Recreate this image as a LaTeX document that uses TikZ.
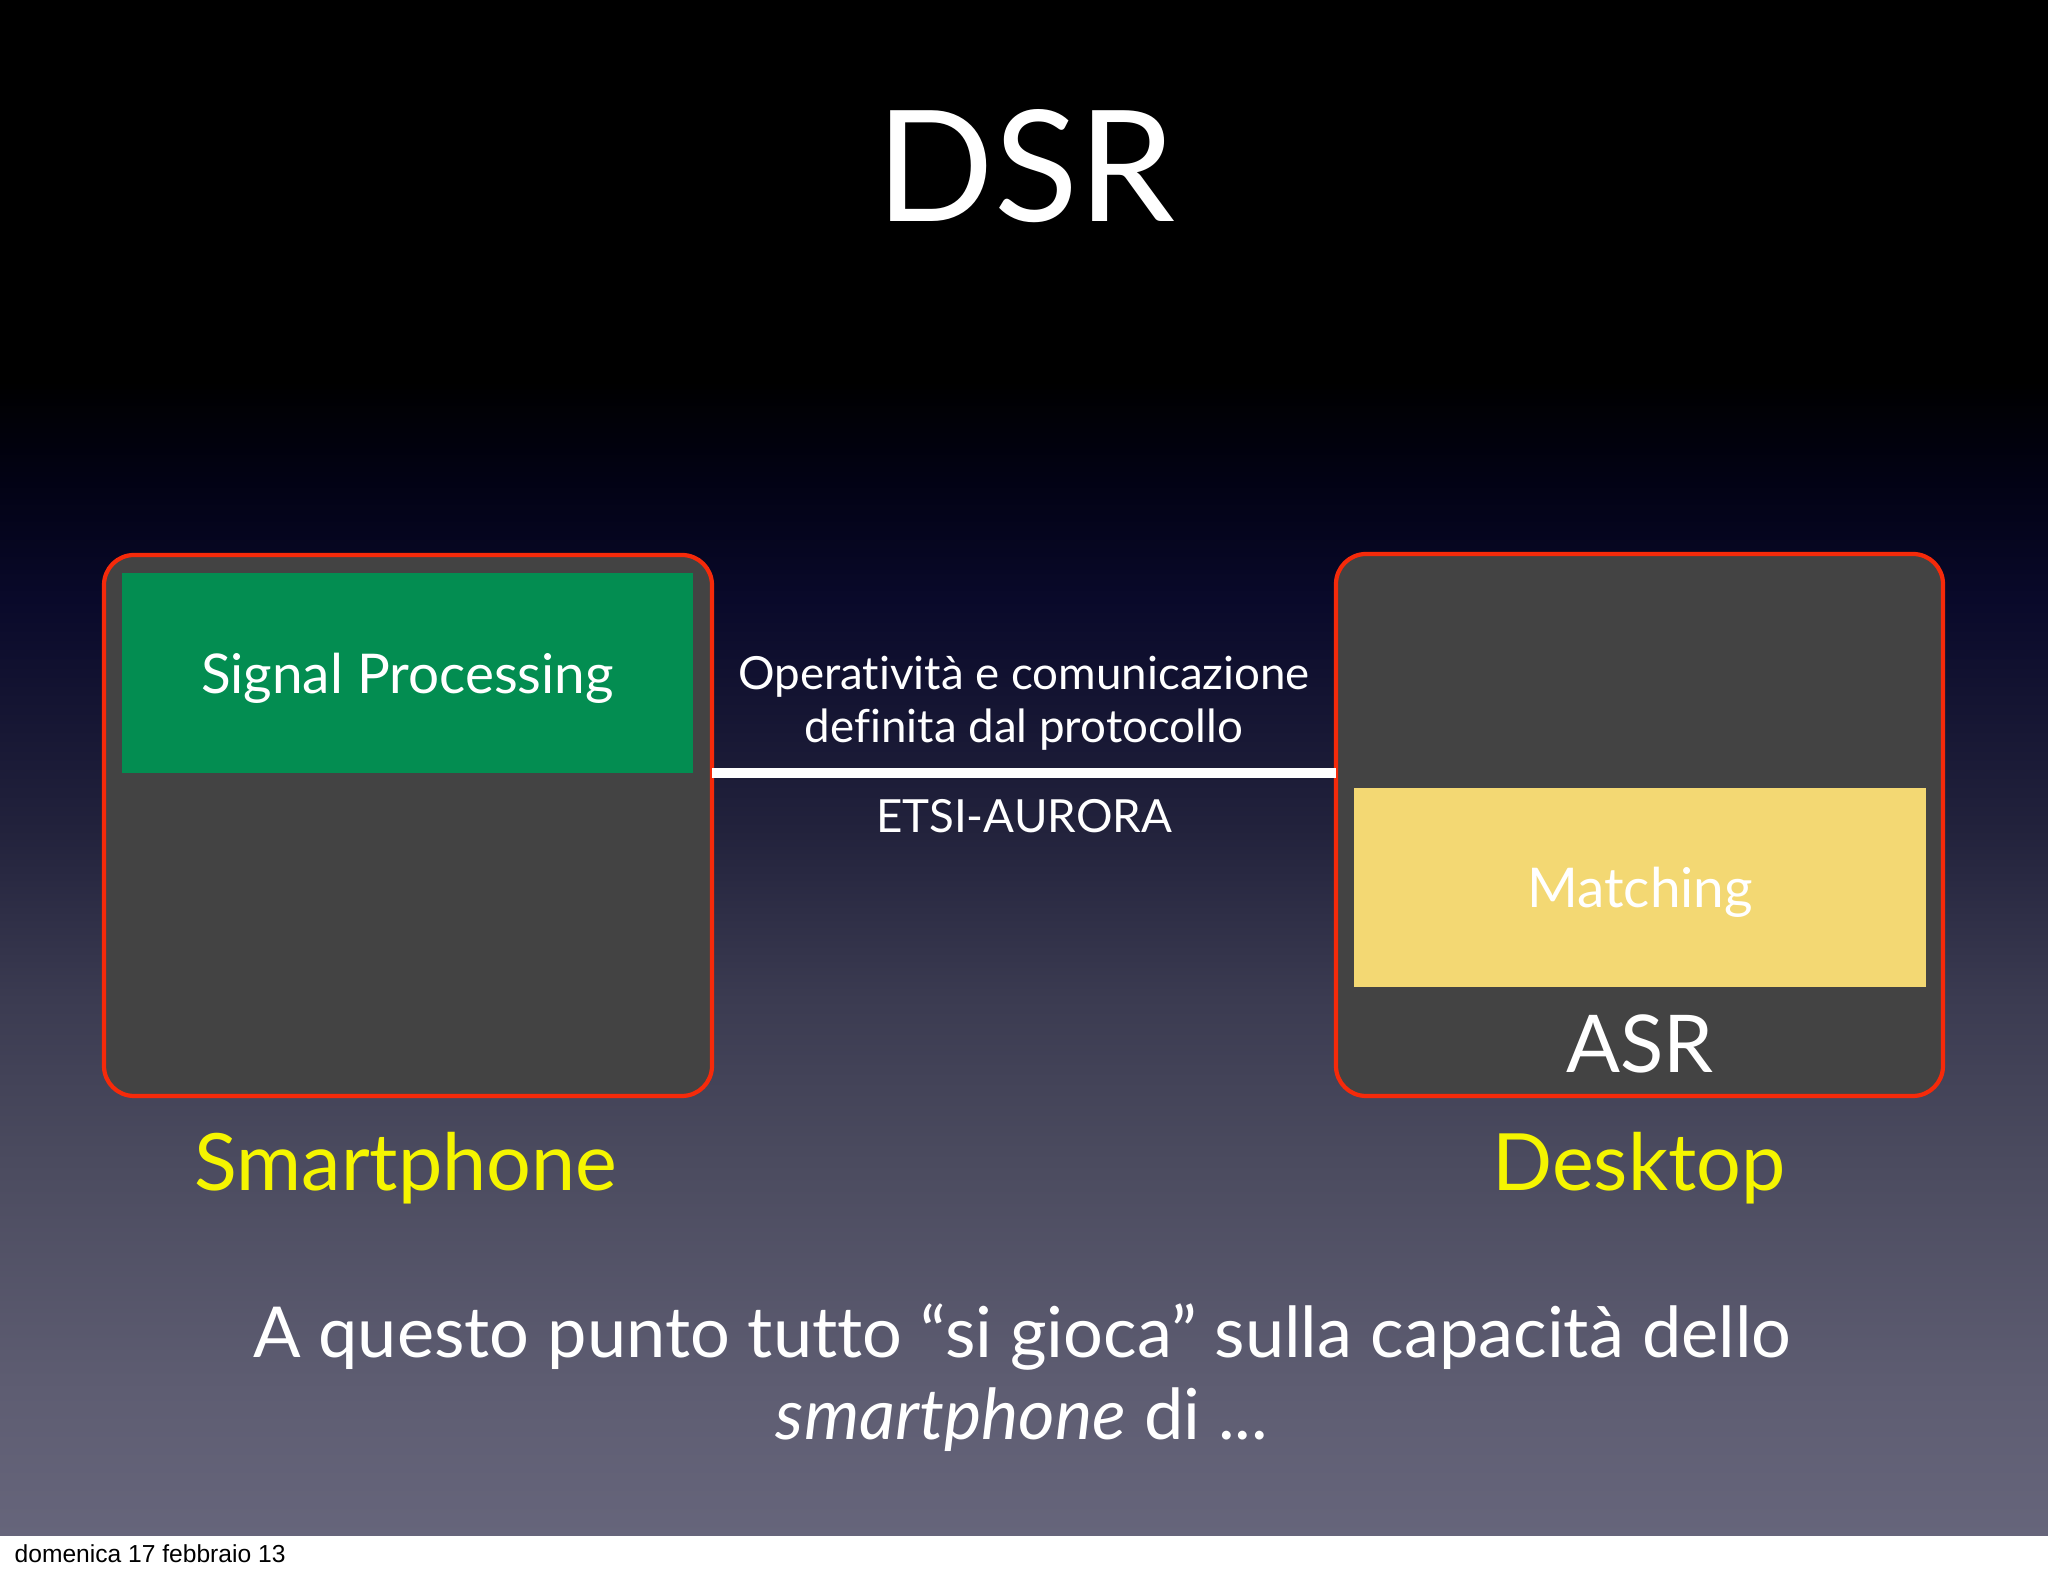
\documentclass[tikz,border=0pt]{standalone}
\usepackage{fontspec}
\setmainfont{Lato}[Ligatures=NoCommon]
\newfontfamily\footfont{Liberation Sans}
\usetikzlibrary{positioning}

\definecolor{boxgray}{HTML}{434343}
\definecolor{boxred}{HTML}{F52A0A}
\definecolor{sigreen}{HTML}{038D51}
\definecolor{matchyellow}{HTML}{F3D873}
\definecolor{tagyellow}{HTML}{F5F500}
\definecolor{bgA}{HTML}{66657B}
\definecolor{bgB}{HTML}{5E5D72}
\definecolor{bgC}{HTML}{4B4B5F}
\definecolor{bgD}{HTML}{3B3B51}
\definecolor{bgE}{HTML}{22223C}
\definecolor{bgF}{HTML}{09092A}
\definecolor{bgG}{HTML}{020214}

\pgfdeclareverticalshading{slidebg}{100bp}{color(0bp)=(bgA); color(25bp)=(bgA);
  color(29.7bp)=(bgB); color(37.2bp)=(bgC); color(42.5bp)=(bgD); color(48bp)=(bgE);
  color(55.5bp)=(bgF); color(59.4bp)=(bgG); color(62.6bp)=(black); color(100bp)=(black)}

\tikzset{
  devbox/.style={draw=boxred, line width=1.2pt, fill=boxgray, rounded corners=0.3cm,
    inner sep=0pt, outer sep=0pt},
  blockbox/.style={inner sep=0pt, outer sep=0pt, text=white, text depth=0pt,
    font=\fontsize{15.6}{18}\selectfont},
  tag/.style={text=tagyellow, font=\fontsize{22.5}{26}\selectfont, anchor=base},
  link/.style={white, line width=3.1pt}
}

\begin{document}
\begin{tikzpicture}
    \useasboundingbox (0,0) rectangle (20.48,15.76);
    % slide background
    \fill[white] (0,0) rectangle (20.48,0.40);
    \shade[shading=slidebg] (0,0.40) rectangle (20.48,15.76);

    \node[text=white, font=\fontsize{44}{48}\selectfont, anchor=base] (title) at (10.26,13.54) {DSR};

    % the two devices
    \node[devbox, minimum width=6.08cm, minimum height=5.41cm] (smart) at (4.08,7.505) {};
    \node[devbox, minimum width=6.07cm, minimum height=5.42cm] (desk) at (16.395,7.51) {};

    \node[blockbox, fill=sigreen, minimum width=5.71cm, minimum height=2.00cm] (sig) at (4.075,9.03) {Signal Processing};
    \node[blockbox, fill=matchyellow, minimum width=5.72cm, minimum height=1.99cm] (match) at (16.40,6.885) {Matching};
    \node[text=white, font=\fontsize{22.7}{26}\selectfont, anchor=base] (asr) at (16.40,5.03) {ASR};

    % protocol link
    \draw[link] (sig.south -| smart.east) -- (sig.south -| desk.west);
    \node[text=white, font=\fontsize{13}{15.2}\selectfont, align=center, anchor=base] (proto) at (10.24,8.33)
        {Operatività e comunicazione\\definita dal protocollo};
    \node[text=white, font=\fontsize{13}{15}\selectfont, anchor=base] (etsi) at (10.24,7.43) {ETSI-AURORA};

    \node[tag] (smartlbl) at (4.06,3.85) {Smartphone};
    \node[tag] (desklbl) at (16.39,3.85) {Desktop};

    \node[text=white, font=\fontsize{20}{23.4}\selectfont, align=center, anchor=base] (note) at (10.22,1.36)
        {A questo punto tutto “si gioca” sulla capacità dello\\\textit{smartphone} di ...};

    \node[font=\footfont\fontsize{7}{8}\selectfont, anchor=base west, inner sep=0pt] (date) at (0.14,0.13) {domenica 17 febbraio 13};
\end{tikzpicture}
\end{document}
